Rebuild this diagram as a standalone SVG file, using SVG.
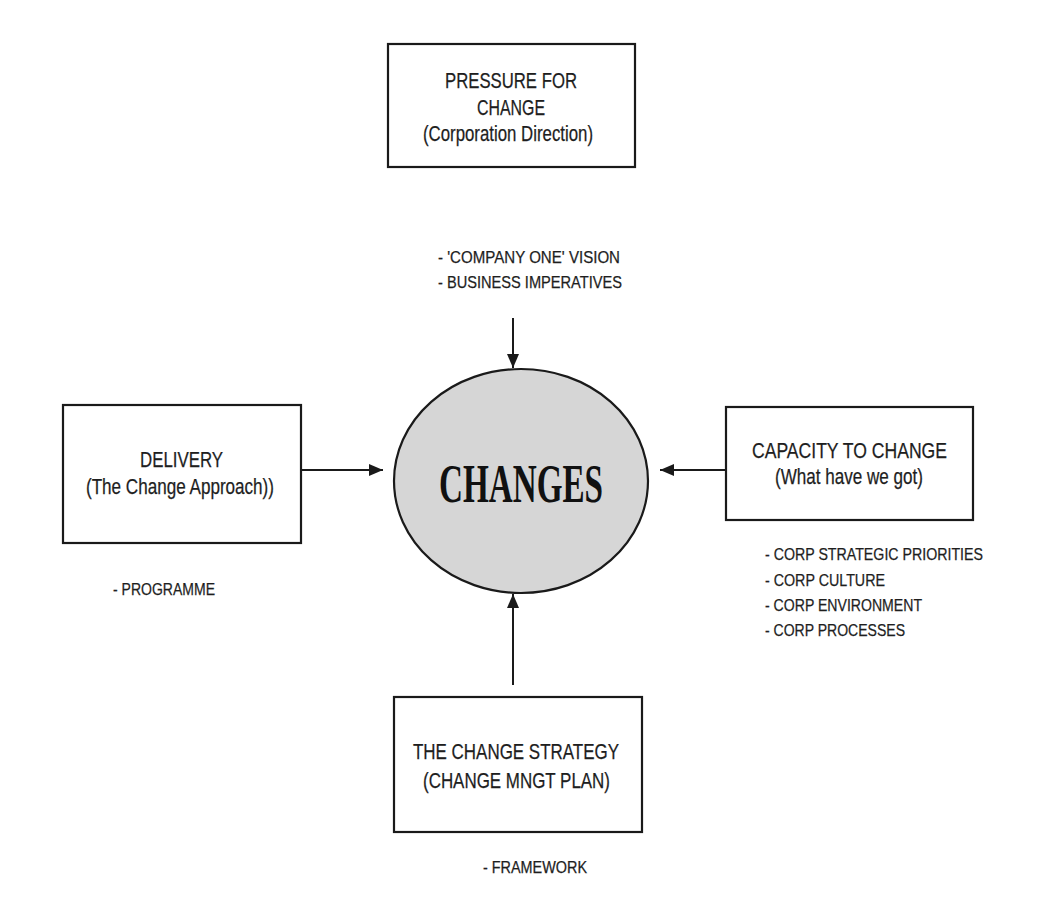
<svg xmlns="http://www.w3.org/2000/svg" width="1040" height="902" viewBox="0 0 1040 902">
<style>
  .box { fill: #ffffff; stroke: #1a1a1a; stroke-width: 2.2; }
  .lbl { font-family: "Liberation Sans", Arial, sans-serif; fill: #1e1e1e; stroke: #1e1e1e; stroke-width: 0.25; }
  .big { font-size: 22px; }
  .sm { font-size: 17px; }
  .conn { stroke: #1a1a1a; stroke-width: 2; fill: none; marker-end: url(#arrow); }
  .hub { fill: #d6d6d6; stroke: #1a1a1a; stroke-width: 2.2; }
  .hubtxt { font-family: "Liberation Serif", "Times New Roman", serif; font-weight: bold; font-size: 54px; fill: #111; }
</style>
<defs>
  <marker id="arrow" viewBox="0 0 14 12" refX="14" refY="6" markerWidth="14" markerHeight="12" markerUnits="userSpaceOnUse" orient="auto">
    <path d="M0,0 L14,6 L0,12 Z" fill="#1a1a1a"/>
  </marker>
</defs>
<rect width="1040" height="902" fill="#ffffff"/>

<g id="connectors">
  <line class="conn" x1="513" y1="318" x2="513" y2="368"/>
  <line class="conn" x1="301" y1="470" x2="383" y2="470"/>
  <line class="conn" x1="726" y1="470" x2="660" y2="470"/>
  <line class="conn" x1="513" y1="685" x2="513" y2="594"/>
</g>

<g id="pressure">
  <rect class="box" x="388" y="44" width="247" height="123"/>
  <text class="lbl big" x="445" y="88" textLength="132" lengthAdjust="spacingAndGlyphs">PRESSURE FOR</text>
  <text class="lbl big" x="477" y="115" textLength="68" lengthAdjust="spacingAndGlyphs">CHANGE</text>
  <text class="lbl big" x="423" y="141" textLength="170" lengthAdjust="spacingAndGlyphs">(Corporation Direction)</text>
</g>

<g id="pressure-notes">
  <text class="lbl sm" x="438" y="263" textLength="182" lengthAdjust="spacingAndGlyphs">- 'COMPANY ONE'  VISION</text>
  <text class="lbl sm" x="438" y="288" textLength="184" lengthAdjust="spacingAndGlyphs">- BUSINESS IMPERATIVES</text>
</g>

<g id="changes">
  <ellipse class="hub" cx="521" cy="481" rx="127" ry="112"/>
  <text class="hubtxt" x="439" y="502" textLength="164" lengthAdjust="spacingAndGlyphs">CHANGES</text>
</g>

<g id="delivery">
  <rect class="box" x="63" y="405" width="238" height="138"/>
  <text class="lbl big" x="140" y="467" textLength="83" lengthAdjust="spacingAndGlyphs">DELIVERY</text>
  <text class="lbl big" x="86" y="494" textLength="188" lengthAdjust="spacingAndGlyphs">(The Change Approach))</text>
  <text class="lbl sm" x="113" y="595" textLength="102" lengthAdjust="spacingAndGlyphs">- PROGRAMME</text>
</g>

<g id="capacity">
  <rect class="box" x="726" y="407" width="247" height="113"/>
  <text class="lbl big" x="752" y="458" textLength="195" lengthAdjust="spacingAndGlyphs">CAPACITY  TO CHANGE</text>
  <text class="lbl big" x="775" y="484" textLength="148" lengthAdjust="spacingAndGlyphs">(What have we got)</text>
  <text class="lbl sm" x="765" y="560" textLength="218" lengthAdjust="spacingAndGlyphs">- CORP STRATEGIC PRIORITIES</text>
  <text class="lbl sm" x="765" y="586" textLength="120" lengthAdjust="spacingAndGlyphs">- CORP CULTURE</text>
  <text class="lbl sm" x="765" y="611" textLength="157" lengthAdjust="spacingAndGlyphs">- CORP ENVIRONMENT</text>
  <text class="lbl sm" x="765" y="636" textLength="140" lengthAdjust="spacingAndGlyphs">- CORP PROCESSES</text>
</g>

<g id="strategy">
  <rect class="box" x="394" y="697" width="248" height="135"/>
  <text class="lbl big" x="413" y="759" textLength="206" lengthAdjust="spacingAndGlyphs">THE CHANGE STRATEGY</text>
  <text class="lbl big" x="423" y="788" textLength="187" lengthAdjust="spacingAndGlyphs">(CHANGE MNGT PLAN)</text>
  <text class="lbl sm" x="483" y="873" textLength="104" lengthAdjust="spacingAndGlyphs">- FRAMEWORK</text>
</g>
</svg>
